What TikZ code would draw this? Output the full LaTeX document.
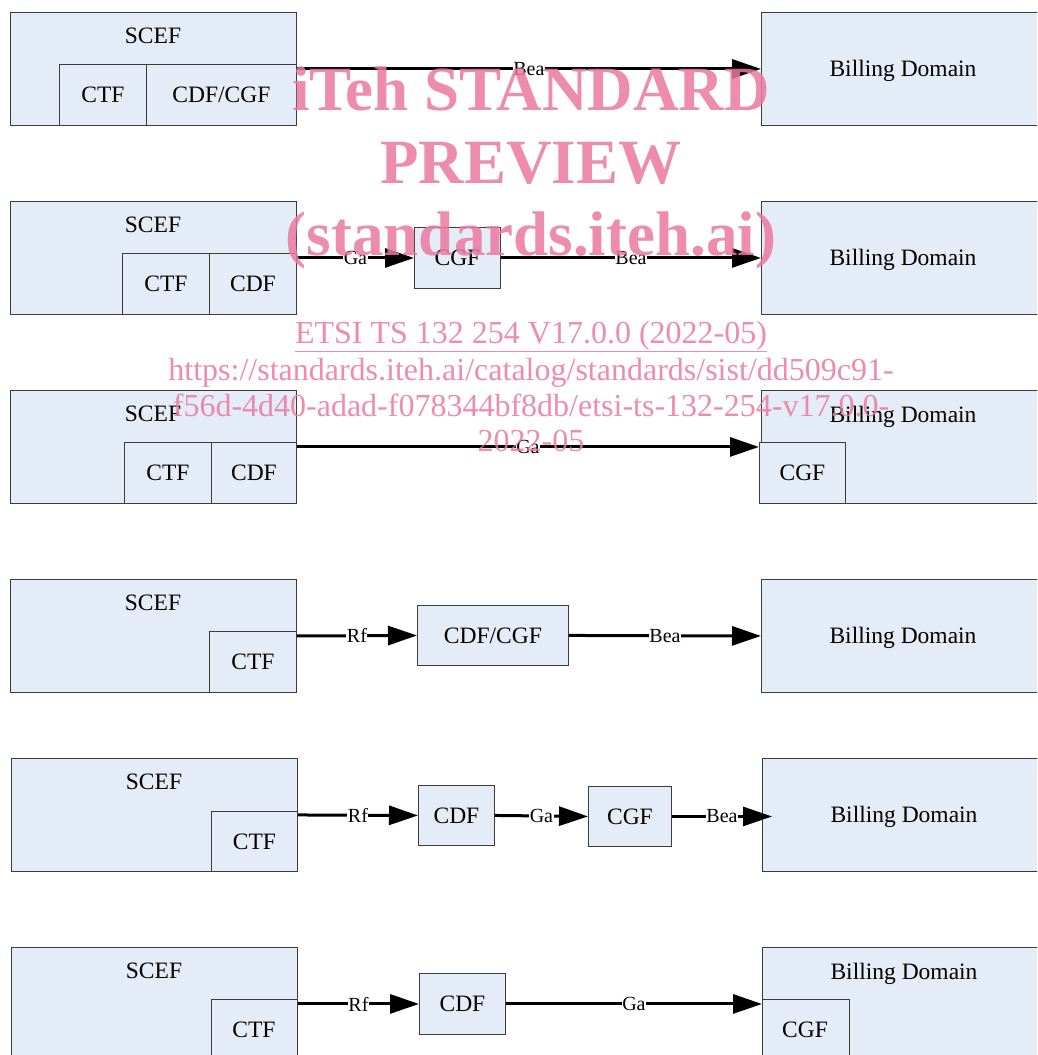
\documentclass[tikz,border=0pt]{standalone}
\usepackage{fontspec}
\setmainfont{Liberation Serif}
\usetikzlibrary{arrows.meta}
\definecolor{boxfill}{RGB}{228,236,247}
\definecolor{boxline}{RGB}{60,60,60}
\definecolor{wmark}{RGB}{234,120,158}
\tikzset{
  box/.style={draw=boxline, fill=boxfill, line width=0.9pt, anchor=north west, inner sep=0pt},
  txt/.style={font=\fontsize{23.5}{28}\selectfont, inner sep=0pt},
  lbl/.style={font=\fontsize{20}{24}\selectfont, fill=white, inner sep=0.5pt},
  arr/.style={line width=3pt, -{Triangle[length=29pt,width=19pt]}},
  wmbig/.style={text=wmark, opacity=0.85, font=\bfseries\fontsize{63}{70}\selectfont, anchor=base, inner sep=0pt},
  wmsmall/.style={text=wmark, opacity=0.85, font=\fontsize{32}{36}\selectfont, anchor=base, inner sep=0pt}
}
\begin{document}
\begin{tikzpicture}[x=1pt,y=-1pt]
\useasboundingbox (0,0) rectangle (1037,1055);
\clip (0,0) rectangle (1037,1055);
% ---------- Row 1 ----------
\node[box, minimum width=286, minimum height=113] (scef1) at (10,12) {};
\node[box, minimum width=87, minimum height=61] (ctf1) at (59,64) {};
\node[box, minimum width=150, minimum height=61] (cdfcgf1) at (146,64) {};
\node[box, minimum width=290, minimum height=113] (bd1) at (761,12) {};
\node[txt] (scef1t) at (153,36) {SCEF};
\node[txt] (ctf1t) at (ctf1.center) {CTF};
\node[txt] (cdfcgf1t) at (cdfcgf1.center) {CDF/CGF};
\node[txt] (bd1t) at (903,71) {Billing Domain};
\draw[arr] (scef1.east) -- node[lbl] (bea1) {Bea} (bd1.west);
% ---------- Row 2 ----------
\node[box, minimum width=286, minimum height=113] (scef2) at (10,201) {};
\node[box, minimum width=87, minimum height=61] (ctf2) at (122,253) {};
\node[box, minimum width=87, minimum height=61] (cdf2) at (209,253) {};
\node[box, minimum width=86, minimum height=61] (cgf2) at (414,227) {};
\node[box, minimum width=290, minimum height=113] (bd2) at (761,201) {};
\node[txt] (scef2t) at (153,225) {SCEF};
\node[txt] (ctf2t) at (ctf2.center) {CTF};
\node[txt] (cdf2t) at (cdf2.center) {CDF};
\node[txt] (cgf2t) at (cgf2.center) {CGF};
\node[txt] (bd2t) at (903,260) {Billing Domain};
\draw[arr] (scef2.east) -- node[lbl] (ga2) {Ga} (cgf2.west);
\draw[arr] (cgf2.east) -- node[lbl] (bea2) {Bea} (bd2.west);
% ---------- Row 3 ----------
\node[box, minimum width=286, minimum height=113] (scef3) at (10,390) {};
\node[box, minimum width=87, minimum height=61] (ctf3) at (124,442) {};
\node[box, minimum width=85, minimum height=61] (cdf3) at (211,442) {};
\node[box, minimum width=290, minimum height=113] (bd3) at (761,390) {};
\node[box, minimum width=86, minimum height=61] (cgf3) at (759,442) {};
\node[txt] (scef3t) at (153,414) {SCEF};
\node[txt] (ctf3t) at (ctf3.center) {CTF};
\node[txt] (cdf3t) at (cdf3.center) {CDF};
\node[txt] (cgf3t) at (cgf3.center) {CGF};
\node[txt] (bd3t) at (903,417) {Billing Domain};
\draw[arr] (scef3.east) -- node[lbl] (ga3) {Ga} (scef3.east -| cgf3.west);
% ---------- Row 4 ----------
\node[box, minimum width=286, minimum height=113] (scef4) at (10,579) {};
\node[box, minimum width=87, minimum height=61] (ctf4) at (209,631) {};
\node[box, minimum width=151, minimum height=60] (cdfcgf4) at (417,605) {};
\node[box, minimum width=290, minimum height=113] (bd4) at (761,579) {};
\node[txt] (scef4t) at (153,603) {SCEF};
\node[txt] (ctf4t) at (ctf4.center) {CTF};
\node[txt] (cdfcgf4t) at (cdfcgf4.center) {CDF/CGF};
\node[txt] (bd4t) at (903,638) {Billing Domain};
\draw[arr] (scef4.east) -- node[lbl] (rf4) {Rf} (cdfcgf4.west);
\draw[arr] (cdfcgf4.east) -- node[lbl] (bea4) {Bea} (bd4.west);
% ---------- Row 5 ----------
\node[box, minimum width=286, minimum height=113] (scef5) at (11,758) {};
\node[box, minimum width=86, minimum height=60] (ctf5) at (211,811) {};
\node[box, minimum width=76, minimum height=60] (cdf5) at (418,785) {};
\node[box, minimum width=83, minimum height=60] (cgf5) at (588,786) {};
\node[box, minimum width=290, minimum height=113] (bd5) at (762,758) {};
\node[txt] (scef5t) at (154,782) {SCEF};
\node[txt] (ctf5t) at (ctf5.center) {CTF};
\node[txt] (cdf5t) at (cdf5.center) {CDF};
\node[txt] (cgf5t) at (cgf5.center) {CGF};
\node[txt] (bd5t) at (904,817) {Billing Domain};
\draw[arr] (scef5.east) -- node[lbl] (rf5) {Rf} (cdf5.west);
\draw[arr] (cdf5.east) -- node[lbl] (ga5) {Ga} (cgf5.west);
\coordinate (bea5end) at ([xshift=10pt]bd5.west |- cgf5.east);
\draw[arr] (cgf5.east) -- node[lbl] (bea5) {Bea} (bea5end);
% ---------- Row 6 ----------
\node[box, minimum width=286, minimum height=113] (scef6) at (11,947) {};
\node[box, minimum width=86, minimum height=61] (ctf6) at (211,999) {};
\node[box, minimum width=86, minimum height=61] (cdf6) at (419,973) {};
\node[box, minimum width=290, minimum height=113] (bd6) at (762,947) {};
\node[box, minimum width=87, minimum height=61] (cgf6) at (762,999) {};
\node[txt] (scef6t) at (154,971) {SCEF};
\node[txt] (ctf6t) at (254,1030) {CTF};
\node[txt] (cdf6t) at (cdf6.center) {CDF};
\node[txt] (cgf6t) at (805,1030) {CGF};
\node[txt] (bd6t) at (904,974) {Billing Domain};
\draw[arr] (scef6.east |- cdf6.west) -- node[lbl] (rf6) {Rf} (cdf6.west);
\draw[arr] (cdf6.east) -- node[lbl] (ga6) {Ga} (cdf6.east -| bd6.west);
% ---------- Watermark ----------
\node[wmbig] (wm1) at (531,110) {iTeh STANDARD};
\node[wmbig] (wm2) at (531,183) {PREVIEW};
\node[wmbig] (wm3) at (531,255) {(standards.iteh.ai)};
\node[wmsmall] (wm4) at (531,343) {\underline{ETSI TS 132 254 V17.0.0 (2022-05)}};
\node[wmsmall] (wm5) at (531,380) {https://standards.iteh.ai/catalog/standards/sist/dd509c91-};
\node[wmsmall] (wm6) at (531,416) {f56d-4d40-adad-f078344bf8db/etsi-ts-132-254-v17.0.0-};
\node[wmsmall] (wm7) at (531,451) {2022-05};
\end{tikzpicture}
\end{document}
